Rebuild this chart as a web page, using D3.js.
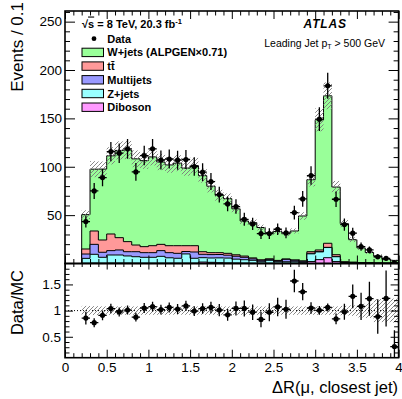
<!DOCTYPE html>
<html><head><meta charset="utf-8">
<script src="https://cdn.jsdelivr.net/npm/d3@7"></script>
<style>
body{margin:0;background:#fff}
svg{display:block}
text{font-family:"Liberation Sans",Arial,Helvetica,sans-serif;fill:#000}
</style>
</head><body>
<svg id="c" width="402" height="399"></svg>
<script>
// ---------- DATA ----------
const binCenters = [0.25,0.35,0.45,0.55,0.65,0.75,0.85,0.95,1.05,1.15,1.25,1.35,1.45,1.55,1.65,1.75,1.85,1.95,2.05,2.15,2.25,2.35,2.45,2.55,2.65,2.75,2.85,2.95,3.05,3.15,3.25,3.35,3.45,3.55,3.65,3.75,3.85,3.95];
const binHalfWidth = 0.05;
const dataVals = [43.3,75,88.8,115.7,114,118.5,94.7,111.6,118.5,107,108,106.8,107.5,100.2,94.4,84.7,71.2,61.6,58.8,45.7,40.9,30.9,30.9,35.4,31.6,52.6,66.8,90.9,149.2,183.7,66.4,40.2,31.3,17.4,14,7,5.3,1.0];
const dataErr  = [6.2,8.3,9.0,10.0,10.0,10.2,9.2,10.0,10.2,9.8,9.8,9.8,9.8,9.5,9.2,8.8,8.2,7.6,7.5,6.7,6.3,5.5,5.5,5.9,5.6,7.2,8.1,9.5,12.2,13.5,8.1,6.3,5.6,4.2,3.7,2.6,2.3,1.0];
const wjets    = [35.5,63.9,73.3,80.8,90.2,94.7,89.1,88.9,91.8,85.1,83.5,85.3,80.2,82.8,78.6,68.7,59.3,56.5,47.5,36.2,36.4,33.4,27.1,29.9,26.1,29.9,46.4,74.4,134.5,152.4,69.9,39.4,23.2,15.2,10.7,7.4,3.9,2.9];
const ttbar    = [5.2,13.8,12.7,17.2,12.7,10.4,6.9,6.2,7.2,6.5,7.2,7.9,6.0,6.5,2.7,2.0,1.9,1.9,1.5,1.3,1.0,0.5,0.5,0.6,0.4,0.4,0.4,1.7,1.8,4.2,1.8,0.5,0.3,0.2,0.2,0.1,0.1,0.1];
const multijets= [4.5,10.3,5.2,4.5,5.2,4.4,5.2,4.8,4.8,5.9,5.3,5.1,2.5,6.5,3.5,3.5,3.5,3.0,3.0,2.5,1.5,1.5,1.0,0.8,2.5,1.5,1.0,0.5,0.2,0.2,0.3,0.3,0.3,0.2,0.1,0.1,0.1,0.0];
const zjets    = [5.0,9.0,6.0,8.3,8.3,7.3,6.6,6.0,6.0,7.0,5.5,5.0,9.5,5.0,4.5,4.5,5.0,5.0,4.0,3.5,3.0,1.5,3.0,1.5,1.5,1.5,1.0,8.0,8.0,10.5,5.0,0.5,0.5,0.3,0.2,0.2,0.1,0.1];
const diboson  = [0.3,0.5,0.4,0.5,0.5,0.5,0.4,0.4,0.4,0.4,0.4,0.4,0.4,0.4,1.5,1.2,0.8,0.6,0.5,0.4,0.3,0.3,0.3,0.3,0.3,0.3,0.3,2.0,4.0,6.0,2.0,0.5,0.3,0.2,0.2,0.1,0.1,0.1];
const mcRelUnc = [0.09,0.085,0.08,0.08,0.08,0.08,0.08,0.08,0.08,0.08,0.08,0.08,0.08,0.08,0.08,0.08,0.08,0.08,0.08,0.08,0.08,0.08,0.08,0.08,0.08,0.08,0.08,0.08,0.08,0.08,0.08,0.09,0.1,0.13,0.14,0.22,0.22,0.23];
const legendNames = ["W+jets (ALPGEN×0.71)","tt\u0304","Multijets","Z+jets","Diboson"];
const xTicks = [0,0.5,1,1.5,2,2.5,3,3.5,4];
const xTickLabels = ["0","0.5","1","1.5","2","2.5","3","3.5","4"];
const yTicksMain = [50,100,150,200,250];
const yTicksRatio = [0.5,1,1.5];
const yTickRatioLabels = ["0.5","1","1.5"];

// ---------- LAYOUT ----------
const L=65, R=398.6, T=11, M=263.5, B=357.7;
const svg = d3.select("#c");
const x  = d3.scaleLinear().domain([0,4]).range([L,R]);
const y  = d3.scaleLinear().domain([0,261]).range([M,T]);
const yr = d3.scaleLinear().domain([0.1,1.9]).range([B,M]);

const defs = svg.append("defs");
const pat = defs.append("pattern").attr("id","hatch").attr("patternUnits","userSpaceOnUse").attr("width",4).attr("height",4);
pat.append("path").attr("d","M-1,1 l2,-2 M0,4 l4,-4 M3,5 l2,-2").attr("stroke","#7a7a7a").attr("stroke-width",0.9);
defs.append("clipPath").attr("id","clipM").append("rect").attr("x",L).attr("y",T).attr("width",R-L).attr("height",M-T);
defs.append("clipPath").attr("id","clipR").append("rect").attr("x",L).attr("y",M).attr("width",R-L).attr("height",B-M);

// stack (bottom -> top)
const layers = [
  {vals:diboson,   color:"#ff99ff"},
  {vals:zjets,     color:"#99ffff"},
  {vals:multijets, color:"#9999ff"},
  {vals:ttbar,     color:"#ff9999"},
  {vals:wjets,     color:"#99ff99"}
];
let run = binCenters.map(()=>0);
layers.forEach(l=>{ run = run.map((r,i)=>r+l.vals[i]); l.cum = run.slice(); });
const total = layers[layers.length-1].cum;

function stepPath(vals, ys){
  const n = binCenters.length;
  const pts = [[x(binCenters[0]-binHalfWidth), ys(0)]];
  vals.forEach((v,i)=>{
    pts.push([x(binCenters[i]-binHalfWidth), ys(v)]);
    pts.push([x(binCenters[i]+binHalfWidth), ys(v)]);
  });
  pts.push([x(binCenters[n-1]+binHalfWidth), ys(0)]);
  return d3.line()(pts)+"Z";
}

const gMain = svg.append("g").attr("clip-path","url(#clipM)");
layers.slice().reverse().forEach(l=>{
  gMain.append("path").attr("d",stepPath(l.cum,y)).attr("fill",l.color)
    .attr("stroke","#000").attr("stroke-width",1);
});
// uncertainty band main
gMain.selectAll("rect.band").data(binCenters).join("rect")
  .attr("x",(c)=>x(c-binHalfWidth)).attr("width",(c)=>x(c+binHalfWidth)-x(c-binHalfWidth))
  .attr("y",(c,i)=>y(total[i]*(1+mcRelUnc[i])))
  .attr("height",(c,i)=>y(total[i]*(1-mcRelUnc[i]))-y(total[i]*(1+mcRelUnc[i])))
  .attr("fill","url(#hatch)");
// data
function drawData(g, vals, errs, ys){
  binCenters.forEach((c,i)=>{
    g.append("line").attr("x1",x(c)).attr("x2",x(c)).attr("y1",ys(vals[i]-errs[i])).attr("y2",ys(vals[i]+errs[i]))
      .attr("stroke","#000").attr("stroke-width",1.3);
    g.append("line").attr("x1",x(c-binHalfWidth)).attr("x2",x(c+binHalfWidth)).attr("y1",ys(vals[i])).attr("y2",ys(vals[i]))
      .attr("stroke","#000").attr("stroke-width",1.3);
    g.append("circle").attr("cx",x(c)).attr("cy",ys(vals[i])).attr("r",2.6).attr("fill","#000");
  });
}
drawData(gMain, dataVals, dataErr, y);

// ratio panel
const gR = svg.append("g").attr("clip-path","url(#clipR)");
gR.append("line").attr("x1",L).attr("x2",R).attr("y1",yr(1)).attr("y2",yr(1))
  .attr("stroke","#000").attr("stroke-width",1).attr("stroke-dasharray","1,2");
gR.selectAll("rect.rband").data(binCenters).join("rect")
  .attr("x",(c)=>x(c-binHalfWidth)).attr("width",(c)=>x(c+binHalfWidth)-x(c-binHalfWidth))
  .attr("y",(c,i)=>yr(1+mcRelUnc[i])).attr("height",(c,i)=>yr(1-mcRelUnc[i])-yr(1+mcRelUnc[i]))
  .attr("fill","url(#hatch)");
const ratio = dataVals.map((d,i)=>d/total[i]);
const ratioErr = dataErr.map((e,i)=>e/total[i]);
drawData(gR, ratio, ratioErr, yr);

// ---------- AXES ----------
const fs = "13.5px";
function styleAxis(g){ g.select(".domain").remove(); g.selectAll("line").attr("stroke","#000").attr("stroke-width",1); g.selectAll("text").style("font-size",fs).attr("font-family",null); }
const minorMain = d3.range(10,261,10).filter(v=>v%50!==0);
svg.append("g").attr("transform",`translate(${L},0)`).call(d3.axisLeft(y).tickValues(yTicksMain).tickSizeInner(-10).tickSizeOuter(0).tickPadding(3)).call(styleAxis);
svg.append("g").attr("transform",`translate(${L},0)`).call(d3.axisLeft(y).tickValues(minorMain).tickSizeInner(-5).tickSizeOuter(0).tickFormat("")).call(styleAxis);
svg.append("g").attr("transform",`translate(${R},0)`).call(d3.axisRight(y).tickValues(yTicksMain).tickSizeInner(-10).tickSizeOuter(0).tickFormat("")).call(styleAxis);
svg.append("g").attr("transform",`translate(${R},0)`).call(d3.axisRight(y).tickValues(minorMain).tickSizeInner(-5).tickSizeOuter(0).tickFormat("")).call(styleAxis);

const minorR = d3.range(2,19).map(v=>v/10).filter(v=>Math.abs(v*2-Math.round(v*2))>1e-6);
svg.append("g").attr("transform",`translate(${L},0)`).call(d3.axisLeft(yr).tickValues(yTicksRatio).tickSizeInner(-8).tickSizeOuter(0).tickPadding(4).tickFormat((d,i)=>yTickRatioLabels[i])).call(styleAxis);
svg.append("g").attr("transform",`translate(${L},0)`).call(d3.axisLeft(yr).tickValues(minorR).tickSizeInner(-4.5).tickSizeOuter(0).tickFormat("")).call(styleAxis);
svg.append("g").attr("transform",`translate(${R},0)`).call(d3.axisRight(yr).tickValues(yTicksRatio).tickSizeInner(-8).tickSizeOuter(0).tickFormat("")).call(styleAxis);
svg.append("g").attr("transform",`translate(${R},0)`).call(d3.axisRight(yr).tickValues(minorR).tickSizeInner(-4.5).tickSizeOuter(0).tickFormat("")).call(styleAxis);

const minorX = d3.range(1,40).map(v=>v/10).filter(v=>Math.abs(v*2-Math.round(v*2))>1e-6);
[[M,"bottom"],[T,"top"],[B,"bottom"],[M,"top"]].forEach(([yy,side],k)=>{
  const ax = side==="bottom"?d3.axisBottom(x):d3.axisTop(x);
  const big = k===3?6:8, small = k===3?3.5:4.5;
  const g1 = svg.append("g").attr("transform",`translate(0,${yy})`)
    .call(ax.tickValues(xTicks).tickSizeInner(-big).tickSizeOuter(0).tickPadding(4.5)
      .tickFormat(k===2?((d,i)=>xTickLabels[i]):"")).call(styleAxis);
  const ax2 = side==="bottom"?d3.axisBottom(x):d3.axisTop(x);
  svg.append("g").attr("transform",`translate(0,${yy})`)
    .call(ax2.tickValues(minorX).tickSizeInner(-small).tickSizeOuter(0).tickFormat("")).call(styleAxis);
});

// frames
svg.append("rect").attr("x",L).attr("y",T).attr("width",R-L).attr("height",M-T).attr("fill","none").attr("stroke","#000").attr("stroke-width",1.6);
svg.append("rect").attr("x",L).attr("y",M).attr("width",R-L).attr("height",B-M).attr("fill","none").attr("stroke","#000").attr("stroke-width",1.6);

// axis titles
svg.append("text").attr("transform","translate(23,2) rotate(-90)").attr("text-anchor","end").style("font-size","17px").text("Events / 0.1");
svg.append("text").attr("transform","translate(23,270) rotate(-90)").attr("text-anchor","end").style("font-size","16.5px").text("Data/MC");
svg.append("text").attr("x",398).attr("y",393).attr("text-anchor","end").style("font-size","16.5px").text("ΔR(μ, closest jet)");

// labels
const t1 = svg.append("text").attr("x",82).attr("y",27.5).style("font-size","11px").style("font-weight","bold");
t1.append("tspan").text("√");
t1.append("tspan").attr("text-decoration","overline").text("s");
t1.append("tspan").text(" = 8 TeV, 20.3 fb");
t1.append("tspan").attr("dy",-4).style("font-size","7.5px").text("-1");

svg.append("text").attr("x",346.7).attr("y",28.3).attr("text-anchor","end").style("font-size","12px")
  .style("font-weight","bold").style("font-style","italic").attr("letter-spacing","0.8").text("ATLAS");
const t2 = svg.append("text").attr("x",385).attr("y",46.5).attr("text-anchor","end").style("font-size","10.5px");
t2.append("tspan").text("Leading Jet p");
t2.append("tspan").attr("dy",2.5).style("font-size","7px").text("T");
t2.append("tspan").attr("dy",-2.5).text(" > 500 GeV");

// legend
const legY0 = 38.7, legStep = 13.7;
svg.append("circle").attr("cx",94).attr("cy",legY0).attr("r",2.4).attr("fill","#000");
svg.append("text").attr("x",107.3).attr("y",legY0+4).style("font-size","11px").style("font-weight","bold").text("Data");
const legColors = layers.slice().reverse().map(l=>l.color);
legendNames.forEach((nm,i)=>{
  const cy = legY0 + legStep*(i+1);
  svg.append("rect").attr("x",82).attr("y",cy-4.2).attr("width",21.5).attr("height",8.4)
    .attr("fill",legColors[i]).attr("stroke","#000").attr("stroke-width",1);
  svg.append("text").attr("x",107.3).attr("y",cy+4).style("font-size","11px").style("font-weight","bold").text(nm);
});
</script>
</body></html>
